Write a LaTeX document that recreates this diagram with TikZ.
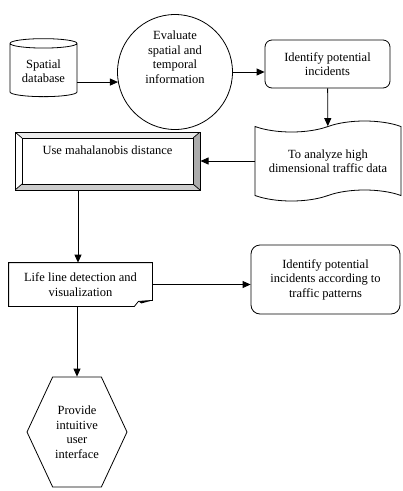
\documentclass[tikz,border=0pt]{standalone}
\usepackage{fontspec}
\setmainfont{Liberation Serif}
\usetikzlibrary{arrows.meta,positioning,shapes.geometric,shapes.symbols}

\begin{document}
\begin{tikzpicture}[x=1pt, y=-1pt, line width=0.8pt,
  every node/.style={font=\fontsize{12.5}{14.5}\selectfont, align=center, inner sep=2pt},
  conn/.style={-{Triangle[length=8pt,width=7pt]}},
  dbase/.style={cylinder, shape border rotate=90, draw, aspect=0.2, minimum width=67pt, minimum height=58pt},
  evbox/.style={circle, draw, inner sep=0pt, text depth=30pt, minimum size=115pt},
  rbox/.style={rectangle, rounded corners=7pt, draw},
  tapebox/.style={tape, draw, tape bend height=11pt, minimum width=146pt, minimum height=80pt},
  bevel/.style={draw, line width=1pt, minimum width=185pt, minimum height=58pt, text depth=21pt,
    path picture={
      \fill[gray!15] (path picture bounding box.north west) -- (path picture bounding box.north east)
        -- ([shift={(-7pt,-6pt)}]path picture bounding box.north east) -- ([shift={(7pt,-6pt)}]path picture bounding box.north west) -- cycle;
      \fill[gray!65] (path picture bounding box.north east) -- (path picture bounding box.south east)
        -- ([shift={(-7pt,6pt)}]path picture bounding box.south east) -- ([shift={(-7pt,-6pt)}]path picture bounding box.north east) -- cycle;
      \fill[gray!40] (path picture bounding box.south west) -- (path picture bounding box.south east)
        -- ([shift={(-7pt,6pt)}]path picture bounding box.south east) -- ([shift={(7pt,6pt)}]path picture bounding box.south west) -- cycle;
      \draw[line width=0.7pt] ([shift={(7pt,-6pt)}]path picture bounding box.north west) rectangle ([shift={(-7pt,6pt)}]path picture bounding box.south east);
      \draw[line width=0.7pt] (path picture bounding box.north west) -- ++(7pt,-6pt)
        (path picture bounding box.north east) -- ++(-7pt,-6pt)
        (path picture bounding box.south west) -- ++(7pt,6pt)
        (path picture bounding box.south east) -- ++(-7pt,6pt);
    }},
  hexa/.style={signal, signal to=west and east, signal pointer angle=130, draw, minimum width=100pt, minimum height=110pt}
]
  \useasboundingbox (0,0) rectangle (403,491);

  \node[dbase] (db) at (43.5,71) {Spatial\\database};
  \node[evbox] (ev) at (175,72) {Evaluate\\spatial and\\temporal\\information};
  \node[rbox, minimum width=125pt, minimum height=48pt] (idp) at (327.5,64) {Identify potential\\incidents};
  \node[tapebox] (tp) at (328,161) {To analyze high\\dimensional traffic data};
  \node[bevel] (mah) at (107.5,161) {Use mahalanobis distance};
  \node[minimum width=143pt, minimum height=43pt] (life) at (80.5,284.5) {Life line detection and\\visualization};
  \node[rbox, rounded corners=9pt, minimum width=149pt, minimum height=69pt] (ipt) at (325.5,279.5) {Identify potential\\incidents according to\\traffic patterns};
  \node[hexa] (hx) at (77,432) {Provide\\intuitive\\user\\interface};

  \draw (life.north west) -- (life.north east) -- ([yshift=6pt]life.south east)
    -- ([shift={(-14pt,5pt)}]life.south east) .. controls ([shift={(-16pt,3pt)}]life.south east) .. ([xshift=-18pt]life.south east)
    -- (life.south west) -- cycle;
  \fill ([yshift=6pt]life.south east) -- ([shift={(-14pt,5pt)}]life.south east) -- ([shift={(-11pt,3pt)}]life.south east) -- cycle;

  \draw[conn] (ev.190 -| db.east) -- (ev.190);
  \draw[conn] (ev.east) -- (ev.east -| idp.west);
  \draw[conn] (idp) -- (tp);
  \draw[conn] (tp.west) -- (tp.west -| mah.east);
  \draw[conn] (mah.south -| 78,0) -- (life.north -| 78,0);
  \draw[conn] (life.east) -- (life.east -| ipt.west);
  \draw[conn] (life.south -| hx.north) -- (hx.north);
\end{tikzpicture}
\end{document}
